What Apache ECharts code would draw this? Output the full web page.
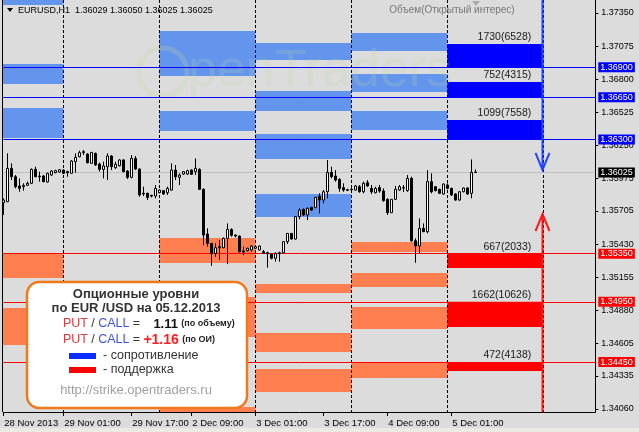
<!DOCTYPE html>
<html><head><meta charset="utf-8">
<script src="https://cdn.jsdelivr.net/npm/echarts@6/dist/echarts.min.js"></script>
<style>html,body{margin:0;padding:0;background:#dcdcdc;}#c{width:639px;height:432px;}</style>
</head><body><div id="c"></div>
<script>
// ---- data ----
// candles: [open, close, low, high]
const candles = [
[1.35774,1.35796,1.35672,1.35810],[1.35782,1.36059,1.35780,1.36184],[1.36059,1.35990,1.35962,1.36101],[1.35990,1.35907,1.35893,1.36004],
[1.35913,1.35893,1.35865,1.35976],[1.35907,1.35918,1.35874,1.35935],[1.35918,1.35935,1.35913,1.35949],[1.35935,1.36051,1.35929,1.36059],
[1.36051,1.35990,1.35985,1.36073],[1.35995,1.35990,1.35949,1.36032],[1.35996,1.35949,1.35943,1.36004],[1.35946,1.36018,1.35940,1.36023],
[1.36004,1.36037,1.35996,1.36045],[1.36023,1.36040,1.36018,1.36048],[1.36029,1.36048,1.36023,1.36054],[1.36045,1.36018,1.36012,1.36051],
[1.36032,1.36023,1.35990,1.36040],[1.36018,1.36120,1.36018,1.36129],[1.36115,1.36151,1.36023,1.36184],[1.36156,1.36190,1.36151,1.36206],
[1.36190,1.36198,1.36170,1.36212],[1.36178,1.36106,1.36101,1.36184],[1.36101,1.36192,1.36101,1.36195],[1.36184,1.36087,1.36081,1.36190],
[1.36095,1.36051,1.36032,1.36106],[1.36051,1.36079,1.35976,1.36115],[1.36073,1.36162,1.35962,1.36184],[1.36162,1.36073,1.36045,1.36170],
[1.36065,1.36093,1.36054,1.36115],[1.36081,1.36129,1.36075,1.36135],[1.36129,1.36032,1.36026,1.36135],[1.36037,1.35985,1.35971,1.36045],
[1.35985,1.36142,1.35976,1.36170],[1.36142,1.36054,1.36045,1.36162],[1.36054,1.35838,1.35824,1.36059],[1.35852,1.35846,1.35829,1.35907],
[1.35852,1.35818,1.35796,1.35857],[1.35835,1.35829,1.35818,1.35840],[1.35829,1.35893,1.35810,1.35921],[1.35857,1.35879,1.35852,1.35885],
[1.35874,1.35846,1.35840,1.35879],[1.35857,1.35893,1.35838,1.35907],[1.35879,1.36045,1.35874,1.36101],[1.36045,1.35990,1.35962,1.36087],
[1.35985,1.36004,1.35921,1.36018],[1.36012,1.36032,1.36004,1.36037],[1.36012,1.36040,1.36004,1.36048],[1.36045,1.36010,1.36004,1.36051],
[1.36032,1.36059,1.36004,1.36142],[1.36051,1.35885,1.35879,1.36059],[1.35885,1.35505,1.35422,1.35893],[1.35514,1.35436,1.35409,1.35561],
[1.35436,1.35353,1.35250,1.35436],[1.35353,1.35400,1.35325,1.35436],[1.35400,1.35409,1.35298,1.35464],[1.35400,1.35478,1.35395,1.35485],
[1.35478,1.35552,1.35264,1.35602],[1.35552,1.35503,1.35492,1.35561],[1.35505,1.35497,1.35486,1.35510],[1.35497,1.35367,1.35361,1.35500],
[1.35372,1.35364,1.35339,1.35409],[1.35375,1.35395,1.35370,1.35400],[1.35381,1.35414,1.35367,1.35422],[1.35395,1.35409,1.35390,1.35414],
[1.35381,1.35414,1.35378,1.35420],[1.35367,1.35353,1.35348,1.35381],[1.35359,1.35350,1.35234,1.35367],[1.35345,1.35312,1.35303,1.35353],
[1.35312,1.35353,1.35284,1.35361],[1.35350,1.35359,1.35284,1.35367],[1.35359,1.35450,1.35355,1.35455],[1.35450,1.35519,1.35431,1.35519],
[1.35519,1.35472,1.35468,1.35522],[1.35472,1.35658,1.35468,1.35662],[1.35658,1.35713,1.35636,1.35727],[1.35719,1.35672,1.35665,1.35725],
[1.35672,1.35727,1.35630,1.35735],[1.35735,1.35713,1.35708,1.35740],[1.35735,1.35818,1.35727,1.35824],[1.35829,1.35796,1.35685,1.35852],
[1.35796,1.35865,1.35769,1.35879],[1.35865,1.36026,1.35810,1.36129],[1.36026,1.35990,1.35976,1.36073],[1.35996,1.35962,1.35949,1.36045],
[1.35968,1.35893,1.35865,1.35976],[1.35899,1.35879,1.35865,1.35935],[1.35882,1.35877,1.35870,1.35890],[1.35880,1.35885,1.35870,1.35895],
[1.35879,1.35913,1.35874,1.35921],[1.35907,1.35865,1.35857,1.35921],[1.35865,1.35935,1.35852,1.35949],[1.35940,1.35913,1.35907,1.35962],
[1.35893,1.35865,1.35846,1.35921],[1.35857,1.35893,1.35852,1.35907],[1.35899,1.35871,1.35857,1.35921],[1.35871,1.35791,1.35782,1.35893],
[1.35802,1.35691,1.35672,1.35810],[1.35691,1.35802,1.35688,1.35805],[1.35802,1.35885,1.35796,1.35913],[1.35879,1.35907,1.35874,1.35921],
[1.35895,1.35900,1.35863,1.35921],[1.35874,1.35976,1.35865,1.36004],[1.35976,1.35458,1.35450,1.35990],[1.35458,1.35414,1.35275,1.35478],
[1.35414,1.35561,1.35353,1.35644],[1.35561,1.35533,1.35530,1.35602],[1.35533,1.35949,1.35519,1.36045],[1.35949,1.35865,1.35852,1.36018],
[1.35907,1.35874,1.35868,1.35912],[1.35885,1.35852,1.35846,1.35890],[1.35846,1.35929,1.35840,1.35935],[1.35921,1.35893,1.35885,1.35935],
[1.35893,1.35838,1.35830,1.35899],[1.35846,1.35796,1.35790,1.35852],[1.35796,1.35865,1.35790,1.35870],[1.35865,1.35896,1.35860,1.35900],
[1.35896,1.35846,1.35840,1.35902],[1.35852,1.36026,1.35810,1.36134],[1.36029,1.36025,1.36025,1.36050]
];
const barCount = 149;
const xTickIndex = [0, 15, 32, 47, 63, 80, 96, 112];
const xTickLabels = ['28 Nov 2013','29 Nov 01:00','29 Nov 17:00','2 Dec 09:00','3 Dec 01:00','3 Dec 17:00','4 Dec 09:00','5 Dec 01:00'];
const yTicks = [1.37350,1.37075,1.36800,1.36525,1.36250,1.35975,1.35705,1.35430,1.35155,1.34880,1.34605,1.34335,1.34060];
const daySeparators = [15, 39, 63, 87, 111, 135];
// earlier-day option blocks: [fromBar, toBar, priceA, priceB]
const callBlocks = [
[-1,15,1.37458,1.37416],[-1,15,1.36926,1.36760],[-1,15,1.36561,1.36312],
[39,63,1.37200,1.36827],[39,63,1.36536,1.36370],
[63,87,1.37101,1.36960],[63,87,1.36702,1.36536],[63,87,1.36345,1.36137],[63,87,1.35846,1.35655],
[87,111,1.37184,1.37034],[87,111,1.36843,1.36694],[87,111,1.36536,1.36378]
];
const putBlocks = [
[-1,15,1.35356,1.35148],[-1,15,1.34899,1.34592],
[39,63,1.35481,1.35273],[39,63,1.34991,1.34658],[39,63,1.34077,1.34035],
[63,87,1.35099,1.35024],[63,87,1.34691,1.34534],[63,87,1.34392,1.34201],
[87,111,1.35447,1.35364],[87,111,1.35190,1.35074],[87,111,1.34907,1.34725],[87,111,1.34450,1.34318]
];
// current-day (05.12.2013) levels
const callStrikes = [1.36900, 1.36650, 1.36300];
const callEdges   = [1.37092, 1.36777, 1.36461];
const callVolume  = [1730, 752, 1099];
const callOI      = [6528, 4315, 7558];
const putStrikes  = [1.35350, 1.34950, 1.34450];
const putEdges    = [1.35232, 1.34741, 1.34376];
const putVolume   = [667, 1662, 472];
const putOI       = [2033, 10626, 4138];
const dayFrom = 111, dayTo = 135;
const bidPrice = 1.36025;
const arrowBar = 135;
const arrowDown = [1.37458, 1.36046];
const arrowUp   = [1.34035, 1.35680];
const yMin = 1.34035, yMax = 1.37458;

// ---- chart ----
const categories = Array.from({length: barCount}, (_, i) => String(i));
const tickMap = {}; xTickIndex.forEach((k, i) => tickMap[k] = xTickLabels[i]);
const chart = echarts.init(document.getElementById('c'), null, {renderer: 'canvas'});
const LEFT_EDGE = 2.5;

function blockRender(color) {
  return function (params, api) {
    const a = api.coord([api.value(0), api.value(2)]);
    const b = api.coord([api.value(1), api.value(3)]);
    const x0 = Math.max(a[0], LEFT_EDGE);
    const y0 = Math.min(a[1], b[1]);
    return {type: 'rect', shape: {x: x0, y: y0, width: b[0] - x0, height: Math.abs(b[1] - a[1])}, style: {fill: color}};
  };
}

const curData = [];
callStrikes.forEach((s, i) => curData.push([dayFrom, dayTo, callEdges[i], s, callVolume[i], callOI[i], 0]));
putStrikes.forEach((s, i) => curData.push([dayFrom, dayTo, s, putEdges[i], putVolume[i], putOI[i], 1]));

const levelLines = [];
callStrikes.forEach(s => levelLines.push({yAxis: s, lineStyle: {color: '#0000ff'}, label: {backgroundColor: '#0000ff'}}));
putStrikes.forEach(s => levelLines.push({yAxis: s, lineStyle: {color: '#ff0000'}, label: {backgroundColor: '#ff0000'}}));
levelLines.push({yAxis: bidPrice, lineStyle: {color: '#c0c0c0'}, label: {backgroundColor: '#000000'}});

const option = {
  animation: false,
  backgroundColor: '#dcdcdc',
  grid: {left: 3.3, right: 43.7, top: 0, bottom: 20, containLabel: false},
  xAxis: {
    type: 'category', data: categories, boundaryGap: false,
    axisLine: {show: true, lineStyle: {color: '#000', width: 1}},
    axisTick: {show: true, length: 4, lineStyle: {color: '#000'}, interval: (i) => tickMap[i] !== undefined},
    axisLabel: {show: true, interval: (i) => tickMap[i] !== undefined, formatter: (v, i) => tickMap[i] || '',
      align: 'left', margin: 6, fontSize: 9.5, fontFamily: 'Liberation Sans', color: '#000', padding: [0, 0, 0, 1]},
    splitLine: {show: false}
  },
  yAxis: {
    type: 'value', position: 'right', min: yMin, max: yMax, scale: true,
    axisLine: {show: true, lineStyle: {color: '#000', width: 1}},
    axisTick: {show: true, length: 3, lineStyle: {color: '#000'}, customValues: yTicks},
    axisLabel: {show: true, customValues: yTicks, formatter: v => v.toFixed(5), margin: 6, fontSize: 9, fontFamily: 'Liberation Sans', color: '#000'},
    splitLine: {show: false}
  },
  series: [
    {type: 'custom', z: 1, renderItem: blockRender('#6495ed'), data: callBlocks, encode: {x: [0, 1], y: [2, 3]}, silent: true},
    {type: 'custom', z: 1, renderItem: blockRender('#ff7f50'), data: putBlocks, encode: {x: [0, 1], y: [2, 3]}, silent: true},
    {type: 'custom', z: 2, silent: true, data: curData, encode: {x: [0, 1], y: [2, 3]},
      renderItem: function (params, api) {
        const a = api.coord([api.value(0), api.value(2)]);
        const b = api.coord([api.value(1), api.value(3)]);
        const isPut = api.value(6) === 1;
        const top = Math.min(a[1], b[1]);
        return {type: 'group', children: [
          {type: 'rect', shape: {x: a[0], y: top, width: b[0] - a[0], height: Math.abs(b[1] - a[1])}, style: {fill: isPut ? '#ff0000' : '#0000ff'}},
          {type: 'text', x: b[0] - 12, y: top - 1, style: {text: api.value(4) + '(' + api.value(5) + ')', fill: '#1a1a1a',
            font: '10.5px "Liberation Sans"', align: 'right', verticalAlign: 'bottom'}}
        ]};
      }
    },
    {type: 'custom', z: 4, silent: true, data: daySeparators.map(d => [d]), encode: {x: 0},
      renderItem: function (params, api) {
        const p = api.coord([api.value(0), yMin]);
        const cs = params.coordSys;
        const x = Math.round(p[0]) + 0.5;
        return {type: 'line', shape: {x1: x, y1: cs.y, x2: x, y2: cs.y + cs.height}, style: {stroke: '#000', lineWidth: 1, lineDash: [3, 2]}};
      }
    },
    {type: 'candlestick', z: 5, data: candles, barWidth: 2,
      itemStyle: {color: '#ffffff', color0: '#000000', borderColor: '#000000', borderColor0: '#000000', borderWidth: 1},
      markLine: {silent: true, symbol: ['none', 'none'], animation: false, precision: 5,
        lineStyle: {type: 'solid', width: 1},
        label: {show: true, position: 'end', distance: 3, color: '#fff', fontSize: 9, fontFamily: 'Liberation Sans',
          padding: [1, 2, 0, 2], formatter: p => Number(p.value).toFixed(5)},
        emphasis: {disabled: true},
        data: levelLines}
    },
    {type: 'custom', z: 6, silent: true,
      data: [[arrowBar, arrowDown[0], arrowDown[1], 0], [arrowBar, arrowUp[0], arrowUp[1], 1]], encode: {x: 0, y: [1, 2]},
      renderItem: function (params, api) {
        const a = api.coord([api.value(0), api.value(1)]);
        const b = api.coord([api.value(0), api.value(2)]);
        const up = api.value(3) === 1;
        const col = up ? '#ff1a1a' : '#2244ff';
        const x = Math.round(b[0]) - 0.5;
        const d = up ? 1 : -1;
        return {type: 'group', children: [
          {type: 'line', shape: {x1: x, y1: a[1], x2: x, y2: b[1]}, style: {stroke: col, lineWidth: 2}},
          {type: 'polyline', shape: {points: [[x - 7, b[1] + d * 17], [x, b[1]], [x + 7, b[1] + d * 17]]}, style: {stroke: col, lineWidth: 2, fill: null}}
        ]};
      }
    }
  ],
  graphic: [
    {type: 'rect', z: 100, shape: {x: 0, y: 428, width: 639, height: 4}, style: {fill: '#ebebe4'}},
    {type: 'line', z: 100, shape: {x1: LEFT_EDGE, y1: 0, x2: LEFT_EDGE, y2: 412}, style: {stroke: '#000', lineWidth: 1}},
    // watermark
    {type: 'circle', z: 3, shape: {cx: 163, cy: 72, r: 24}, style: {fill: null, stroke: 'rgba(190,215,160,0.25)', lineWidth: 5}},
    {type: 'text', z: 3, x: 188, y: 72, style: {text: 'penTraders', font: '52px "Liberation Sans"', fill: 'rgba(190,215,160,0.2)', verticalAlign: 'middle'}},
    // header
    {type: 'polygon', z: 100, shape: {points: [[7, 8], [13, 8], [10, 12]]}, style: {fill: '#000'}},
    {type: 'text', z: 100, x: 18, y: 10.5, style: {text: 'EURUSD,H1  1.36029 1.36050 1.36025 1.36025', font: '9px "Liberation Sans"', fill: '#000', verticalAlign: 'middle'}},
    {type: 'text', z: 100, x: 452, y: 10, style: {text: 'Объем(Открытый интерес)', font: '10px "Liberation Sans"', fill: '#777', align: 'center', verticalAlign: 'middle'}},
    {type: 'polygon', z: 100, shape: {points: [[472, 1], [480, 1], [476, 6]]}, style: {fill: '#aaa'}},
    // info box
    {type: 'rect', z: 100, shape: {x: 27, y: 282, width: 220, height: 126, r: 12}, style: {fill: '#fff', stroke: '#f07a1a', lineWidth: 2.5}},
    {type: 'text', z: 101, x: 136, y: 294, style: {text: 'Опционные уровни', font: 'bold 13px "Liberation Sans"', fill: '#333', align: 'center', verticalAlign: 'middle'}},
    {type: 'text', z: 101, x: 136, y: 308, style: {text: 'по EUR /USD на 05.12.2013', font: 'bold 13px "Liberation Sans"', fill: '#333', align: 'center', verticalAlign: 'middle'}},
    {type: 'text', z: 101, x: 63, y: 324, style: {text: '{r|PUT} {d|/} {b|CALL} {d|=}    {n|1.11} {s|(по объему)}', verticalAlign: 'middle',
      rich: {r: {fill: '#d83a3a', font: '12.5px "Liberation Sans"'}, d: {fill: '#333', font: '12.5px "Liberation Sans"'}, b: {fill: '#3a55d8', font: '12.5px "Liberation Sans"'},
        n: {fill: '#111', font: 'bold 13px "Liberation Sans"'}, s: {fill: '#222', font: 'bold 9px "Liberation Sans"'}}}},
    {type: 'text', z: 101, x: 63, y: 340, style: {text: '{r|PUT} {d|/} {b|CALL} {d|=} {n|+1.16} {s|(по ОИ)}', verticalAlign: 'middle',
      rich: {r: {fill: '#d83a3a', font: '12.5px "Liberation Sans"'}, d: {fill: '#333', font: '12.5px "Liberation Sans"'}, b: {fill: '#3a55d8', font: '12.5px "Liberation Sans"'},
        n: {fill: '#ff2020', font: 'bold 14px "Liberation Sans"'}, s: {fill: '#222', font: 'bold 9px "Liberation Sans"'}}}},
    {type: 'rect', z: 101, shape: {x: 69, y: 353, width: 27, height: 6}, style: {fill: '#0a2cff'}},
    {type: 'text', z: 101, x: 103, y: 356, style: {text: '- сопротивление', font: '12.5px "Liberation Sans"', fill: '#333', verticalAlign: 'middle'}},
    {type: 'rect', z: 101, shape: {x: 69, y: 367, width: 27, height: 6}, style: {fill: '#ff0000'}},
    {type: 'text', z: 101, x: 103, y: 370, style: {text: '- поддержка', font: '12.5px "Liberation Sans"', fill: '#333', verticalAlign: 'middle'}},
    {type: 'text', z: 101, x: 136, y: 390, style: {text: 'http://strike.opentraders.ru', font: '13px "Liberation Sans"', fill: '#a0a0a0', align: 'center', verticalAlign: 'middle'}}
  ]
};
chart.setOption(option);
</script>
</body></html>
